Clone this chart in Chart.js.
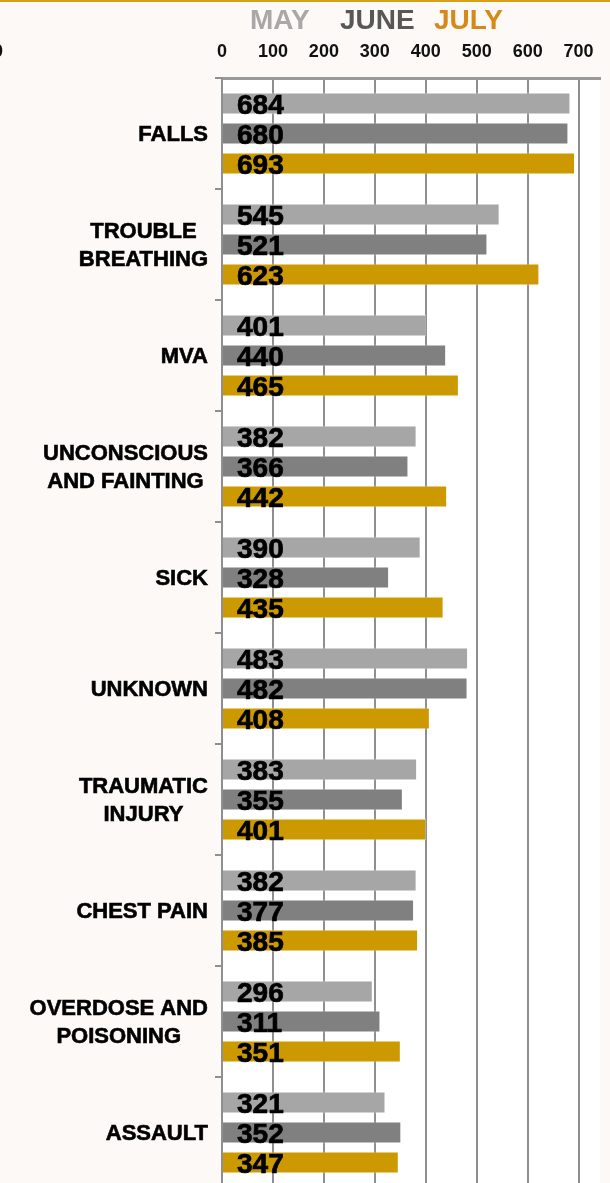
<!DOCTYPE html>
<html>
<head>
<meta charset="utf-8">
<script src="https://cdn.jsdelivr.net/npm/chart.js@4/dist/chart.umd.min.js"></script>
<style>
  html, body { margin: 0; padding: 0; background: #fcf9f6; overflow: hidden; }
  canvas { display: block; }
</style>
</head>
<body>
<canvas id="callsChart" width="610" height="1200"></canvas>
<script>
const categories = [
  'FALLS', ['TROUBLE', 'BREATHING'], 'MVA', ['UNCONSCIOUS', 'AND FAINTING'], 'SICK',
  'UNKNOWN', ['TRAUMATIC', 'INJURY'], 'CHEST PAIN', ['OVERDOSE AND', 'POISONING'], 'ASSAULT'
];
const months = ['MAY', 'JUNE', 'JULY'];
const mayCalls = [684, 545, 401, 382, 390, 483, 383, 382, 296, 321];
const juneCalls = [680, 521, 440, 366, 328, 482, 355, 377, 311, 352];
const julyCalls = [693, 623, 465, 442, 435, 408, 401, 385, 351, 347];
const xTicks = [0, 100, 200, 300, 400, 500, 600, 700];

const barColors = ['#a6a6a6', '#808080', '#cc9900'];
const legendColors = ['#a8a8a8', '#575757', '#d4891a'];
const FONT = '"Liberation Sans", Arial, sans-serif';

// page background, white plot area, gold rule on top
const backdrop = {
  id: 'backdrop',
  beforeDraw(chart) {
    const { ctx, chartArea: a } = chart;
    ctx.save();
    ctx.fillStyle = '#fcf9f6';
    ctx.fillRect(0, 0, chart.width, chart.height);
    ctx.fillStyle = '#ffffff';
    ctx.fillRect(a.left, a.top, a.right - a.left, a.bottom - a.top);
    ctx.fillStyle = '#d6a21c';
    ctx.fillRect(0, 0, chart.width, 2);
    ctx.restore();
  }
};

// month legend across the top
const monthLegend = {
  id: 'monthLegend',
  afterDraw(chart) {
    const { ctx } = chart;
    ctx.save();
    ctx.font = 'bold 28px ' + FONT;
    ctx.textBaseline = 'alphabetic';
    const xs = [250, 340, 434];
    chart.data.datasets.forEach((ds, i) => {
      ctx.fillStyle = legendColors[i];
      ctx.fillText(ds.label, xs[i], 29);
    });
    // clipped fragment at the left edge
    ctx.fillStyle = '#111';
    ctx.font = 'bold 18px ' + FONT;
    ctx.textAlign = 'right';
    ctx.fillText('0', 3, 57);
    ctx.restore();
  }
};

// draw text a little heavier, like the source
const heavyText = (ctx, text, x, y) => {
  ctx.fillText(text, x, y);
  ctx.strokeText(text, x, y);
};

// category names: right aligned block, lines centred inside it
const categoryLabels = {
  id: 'categoryLabels',
  afterDraw(chart) {
    const { ctx } = chart;
    const y = chart.scales.y;
    ctx.save();
    ctx.font = 'bold 22px ' + FONT;
    ctx.fillStyle = '#000';
    ctx.strokeStyle = '#000';
    ctx.lineWidth = 0.6;
    ctx.textAlign = 'center';
    ctx.textBaseline = 'middle';
    chart.data.labels.forEach((label, i) => {
      const lines = Array.isArray(label) ? label : [label];
      const w = Math.max(...lines.map(l => ctx.measureText(l).width));
      const cx = 208 - w / 2;
      const cy = y.getPixelForTick(i);
      const lh = 28;
      lines.forEach((line, j) => {
        heavyText(ctx, line, cx, cy + (j - (lines.length - 1) / 2) * lh + 1);
      });
    });
    ctx.restore();
  }
};

// value labels inside the bars, near the axis
const valueLabels = {
  id: 'valueLabels',
  afterDatasetsDraw(chart) {
    const { ctx, chartArea } = chart;
    ctx.save();
    ctx.font = 'bold 28px ' + FONT;
    ctx.fillStyle = '#000';
    ctx.strokeStyle = '#000';
    ctx.lineWidth = 0.7;
    ctx.textAlign = 'left';
    ctx.textBaseline = 'alphabetic';
    chart.data.datasets.forEach((ds, i) => {
      chart.getDatasetMeta(i).data.forEach((bar, j) => {
        heavyText(ctx, String(ds.data[j]), chartArea.left + 15, bar.y + 10.5);
      });
    });
    ctx.restore();
  }
};

const series = [mayCalls, juneCalls, julyCalls];

new Chart(document.getElementById('callsChart').getContext('2d'), {
  type: 'bar',
  data: {
    labels: categories,
    datasets: months.map((m, i) => ({
      label: m,
      data: series[i],
      backgroundColor: barColors[i],
      borderColor: 'rgba(255,255,255,0.45)',
      borderWidth: 1,
      categoryPercentage: 0.811,
      barPercentage: 0.73
    }))
  },
  options: {
    indexAxis: 'y',
    responsive: false,
    animation: false,
    devicePixelRatio: 1,
    layout: { padding: { top: 0, right: 10, bottom: 12, left: 0 } },
    plugins: { legend: { display: false }, tooltip: { enabled: false } },
    scales: {
      x: {
        position: 'top',
        min: 0,
        max: 742,
        ticks: {
          stepSize: 100,
          padding: 15,
          color: '#111',
          font: { family: FONT, size: 18, weight: 'bold' }
        },
        afterBuildTicks(scale) {
          scale.ticks = xTicks.map(v => ({ value: v }));
        },
        afterFit(scale) { scale.height = 78; },
        grid: { color: '#8f8f8f', lineWidth: 2, drawTicks: false },
        border: { display: true, color: '#999999', width: 3 }
      },
      y: {
        ticks: { display: false },
        afterFit(scale) { scale.width = 222; },
        grid: {
          drawOnChartArea: false,
          drawTicks: true,
          tickLength: 7,
          color: '#8f8f8f',
          lineWidth: 2
        },
        border: { display: true, color: '#8f8f8f', width: 2 }
      }
    }
  },
  plugins: [backdrop, monthLegend, categoryLabels, valueLabels]
});
</script>
</body>
</html>
